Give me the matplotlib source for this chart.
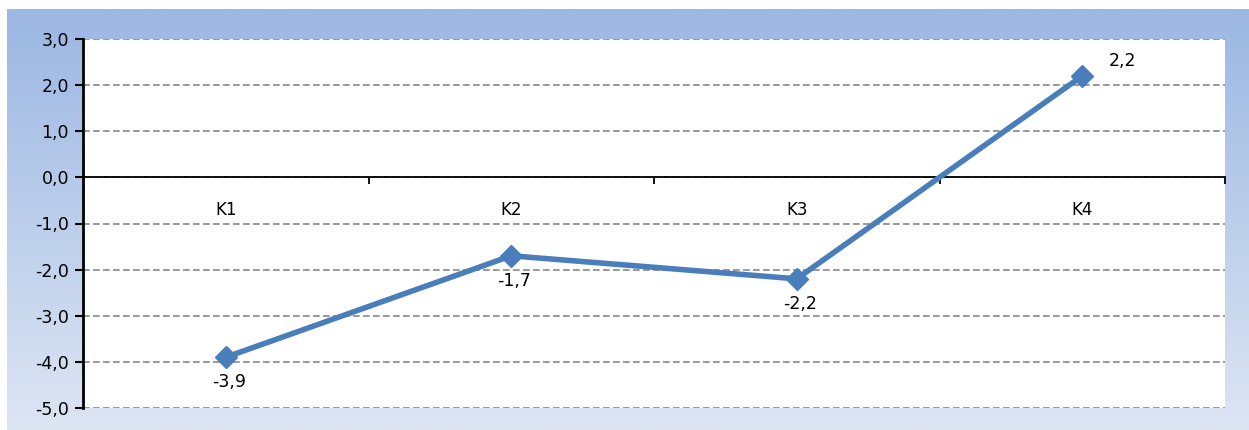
import numpy as np
import matplotlib
matplotlib.use("Agg")
import matplotlib.pyplot as plt
from matplotlib.ticker import FuncFormatter, FixedLocator
from matplotlib.colors import LinearSegmentedColormap

categories = ["K1", "K2", "K3", "K4"]
values = [-3.9, -1.7, -2.2, 2.2]
y_ticks = [-5, -4, -3, -2, -1, 0, 1, 2, 3]

W, H = 1249, 430
fig = plt.figure(figsize=(W / 100, H / 100), dpi=100)
fig.patch.set_facecolor("white")

# gradient background panel
bg = fig.add_axes([7 / W, 0, 1 - 7 / W, (H - 9) / H])
grad = np.linspace(0, 1, 256).reshape(-1, 1)
cmap = LinearSegmentedColormap.from_list("bg", ["#9bb7e3", "#dde5f3"])
bg.imshow(grad, aspect="auto", cmap=cmap, extent=[0, 1, 0, 1], origin="upper")
bg.set_axis_off()

ax = fig.add_axes([83 / W, (H - 408) / H, (1225 - 83) / W, (408 - 39) / H])
ax.set_facecolor("white")
x = np.arange(len(categories))

ax.plot(x, values, color="#4a7ebb", lw=4, marker="D", ms=11, zorder=3, clip_on=False)

ax.set_xlim(-0.5, len(categories) - 0.5)
ax.set_ylim(-5, 3)
ax.set_yticks(y_ticks)
ax.yaxis.set_major_formatter(FuncFormatter(lambda v, p: f"{v:.1f}".replace(".", ",")))
ax.grid(axis="y", color="#888888", ls=(0, (4, 2)), lw=1.2, zorder=1)

ax.spines["top"].set_visible(False)
ax.spines["right"].set_visible(False)
ax.spines["left"].set_linewidth(2)
ax.spines["bottom"].set_position(("data", 0))
ax.spines["bottom"].set_linewidth(1.3)
ax.spines["bottom"].set_zorder(2)

ax.set_xticks(x)
ax.set_xticklabels(categories)
ax.xaxis.set_minor_locator(FixedLocator(np.arange(0.5, len(categories), 1.0)))
ax.tick_params(axis="x", which="major", length=0, pad=17, labelsize=12)
ax.tick_params(axis="x", which="minor", length=5, width=1.3, direction="out")
ax.tick_params(axis="y", length=6, width=1.5, labelsize=12.5, pad=4)

# data labels
for xi, v in zip(x, values):
    if v >= 0:
        ax.annotate(f"{v:.1f}".replace(".", ","), (xi, v), xytext=(40, 15),
                    textcoords="offset pixels", ha="center", va="center", fontsize=12.5)
    else:
        ax.annotate(f"{v:.1f}".replace(".", ","), (xi, v), xytext=(3, -25),
                    textcoords="offset pixels", ha="center", va="center", fontsize=12.5)

fig.savefig("out.png", dpi=100)
